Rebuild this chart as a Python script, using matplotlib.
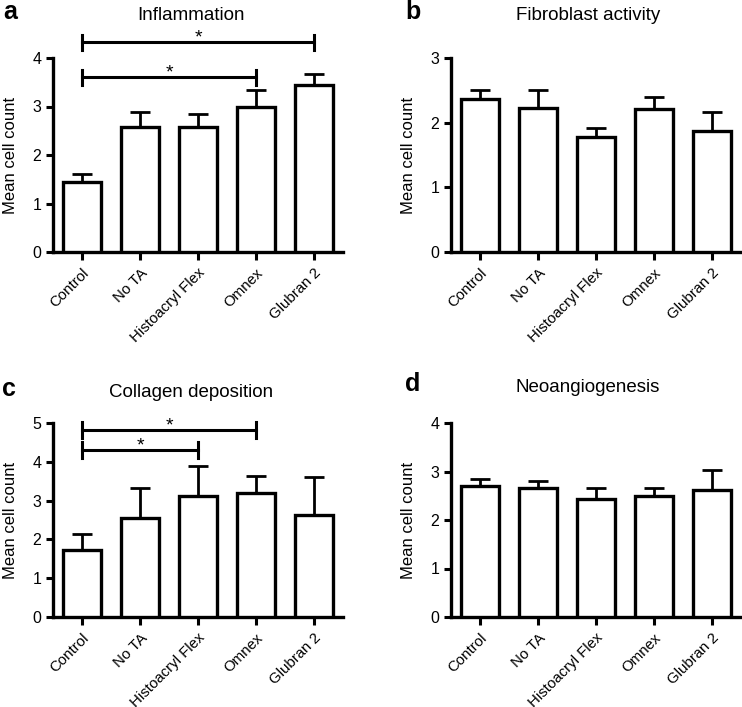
import matplotlib
matplotlib.use("Agg")
import matplotlib.pyplot as plt

# =========================
# DATA
# =========================

groups = ["Control", "No TA", "Histoacryl Flex", "Omnex", "Glubran 2"]

inflammation_mean = [1.45, 2.57, 2.57, 3.00, 3.44]
inflammation_err = [0.16, 0.31, 0.27, 0.33, 0.24]

fibroblast_mean = [2.36, 2.23, 1.78, 2.21, 1.87]
fibroblast_err = [0.15, 0.27, 0.13, 0.18, 0.29]

collagen_mean = [1.73, 2.56, 3.11, 3.20, 2.62]
collagen_err = [0.42, 0.76, 0.79, 0.43, 0.98]

neo_mean = [2.71, 2.67, 2.44, 2.49, 2.61]
neo_err = [0.14, 0.14, 0.23, 0.16, 0.43]

# significance brackets: (from, to, height)
inflammation_sig = [(0, 4, 4.32), (0, 3, 3.60)]
collagen_sig = [(0, 3, 4.82), (0, 2, 4.30)]

plt.rcParams["font.family"] = ["Liberation Sans", "DejaVu Sans"]

W, H = 742, 707
fig = plt.figure(figsize=(W / 100, H / 100), dpi=100)


def make_axes(left, top, right, bottom):
    return fig.add_axes([left / W, 1 - bottom / H, (right - left) / W, (bottom - top) / H])


def draw_panel(ax, means, errs, ymax):
    x = list(range(len(groups)))
    ax.bar(x, means, width=0.67, color="white", edgecolor="black",
           linewidth=2.4, zorder=3)
    ax.errorbar(x, means, yerr=[[0] * len(errs), errs], fmt="none",
                ecolor="black", elinewidth=2, capsize=7, capthick=2, zorder=2)
    ax.set_xlim(-0.5, 4.5)
    ax.set_ylim(0, ymax)
    ax.set_yticks(range(0, ymax + 1))
    ax.set_xticks(x)
    ax.set_xticklabels(groups, rotation=45, ha="right", rotation_mode="anchor")
    ax.tick_params(axis="both", width=2.2, length=5, labelsize=11.5)
    ax.tick_params(axis="x", length=6, labelsize=10.8, pad=4)
    ax.spines["top"].set_visible(False)
    ax.spines["right"].set_visible(False)
    ax.spines["left"].set_linewidth(2.4)
    ax.spines["bottom"].set_linewidth(2.4)
    ax.set_ylabel("Mean cell count", fontsize=12, labelpad=10)


def draw_sig(ax, sigs, half):
    for x0, x1, y in sigs:
        ax.plot([x0, x1], [y, y], color="black", lw=2.2, clip_on=False)
        ax.plot([x0, x0], [y - half, y + half], color="black", lw=2.2, clip_on=False)
        ax.plot([x1, x1], [y - half, y + half], color="black", lw=2.2, clip_on=False)
        ax.text((x0 + x1) / 2, y, "*", ha="center", va="baseline",
                fontsize=14, clip_on=False)


# =========================
# PANELS
# =========================

ax_a = make_axes(53, 58, 343, 252)
draw_panel(ax_a, inflammation_mean, inflammation_err, 4)
draw_sig(ax_a, inflammation_sig, 0.16)

ax_b = make_axes(451, 58, 741, 252)
draw_panel(ax_b, fibroblast_mean, fibroblast_err, 3)

ax_c = make_axes(53, 423, 343, 617)
draw_panel(ax_c, collagen_mean, collagen_err, 5)
draw_sig(ax_c, collagen_sig, 0.21)

ax_d = make_axes(451, 423, 741, 617)
draw_panel(ax_d, neo_mean, neo_err, 4)

# titles and panel letters
fig.text(191 / W, 1 - 15 / H, "Inflammation", ha="center", va="center", fontsize=13.5)
fig.text(588 / W, 1 - 15 / H, "Fibroblast activity", ha="center", va="center", fontsize=13.5)
fig.text(191 / W, 1 - 392 / H, "Collagen deposition", ha="center", va="center", fontsize=13.5)
fig.text(588 / W, 1 - 388 / H, "Neoangiogenesis", ha="center", va="center", fontsize=13.5)

fig.text(10 / W, 1 - 12 / H, "a", ha="center", va="center", fontsize=18, fontweight="bold")
fig.text(413 / W, 1 - 12 / H, "b", ha="center", va="center", fontsize=18, fontweight="bold")
fig.text(9 / W, 1 - 389 / H, "c", ha="center", va="center", fontsize=18, fontweight="bold")
fig.text(413 / W, 1 - 384 / H, "d", ha="center", va="center", fontsize=18, fontweight="bold")

fig.savefig("out.png", dpi=100)
